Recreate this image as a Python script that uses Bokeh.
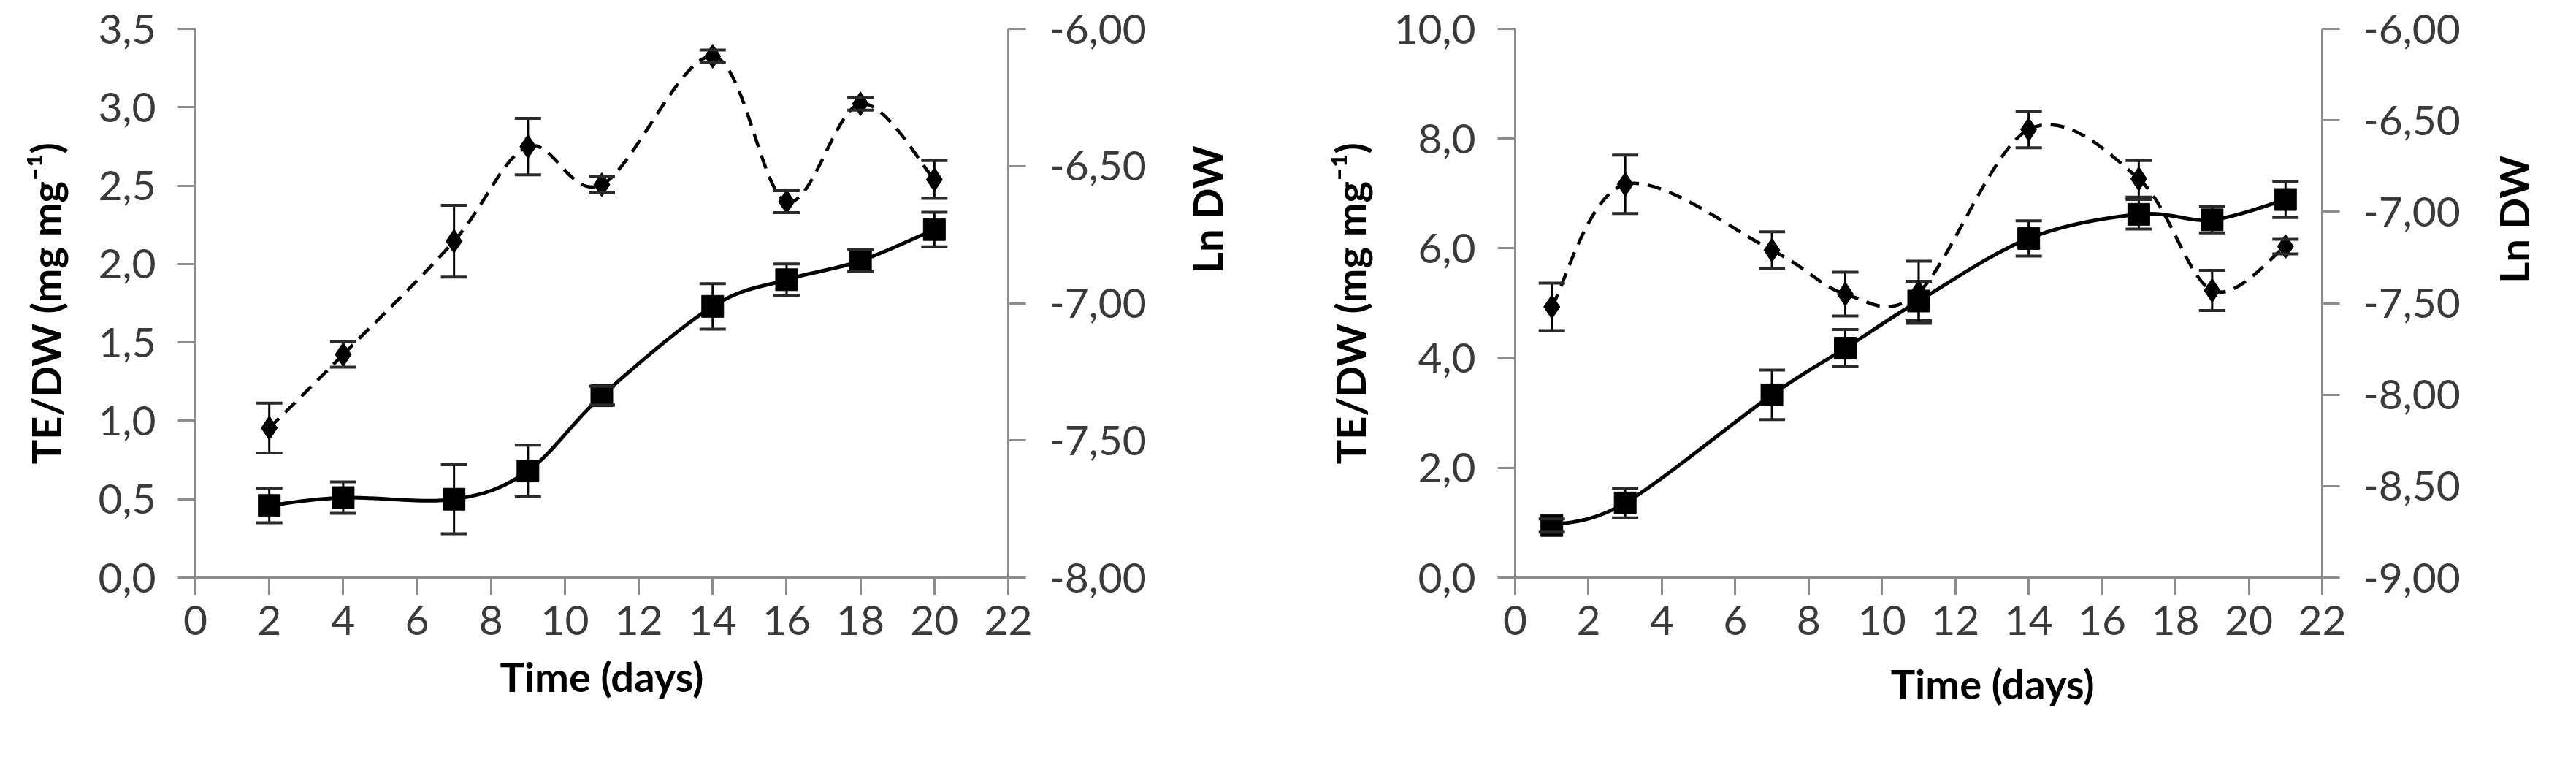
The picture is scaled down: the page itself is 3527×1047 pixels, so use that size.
import math
from bokeh.plotting import figure
from bokeh.layouts import row
from bokeh.models import (Range1d, LinearAxis, FixedTicker, CustomJSTickFormatter,
                          Whisker, TeeHead, ColumnDataSource)
from bokeh.embed import file_html
from bokeh.resources import INLINE

# ---------------- data ----------------
# left panel
days_a = [2, 4, 7, 9, 11, 14, 16, 18, 20]
te_a = [0.46, 0.51, 0.50, 0.68, 1.16, 1.73, 1.90, 2.02, 2.22]
te_a_err = [0.11, 0.10, 0.22, 0.165, 0.06, 0.145, 0.10, 0.07, 0.11]
ln_a = [-7.455, -7.187, -6.774, -6.429, -6.568, -6.100, -6.630, -6.273, -6.549]
ln_a_err = [0.091, 0.046, 0.131, 0.103, 0.029, 0.023, 0.040, 0.023, 0.069]

# right panel
days_b = [1, 3, 7, 9, 11, 14, 17, 19, 21]
te_b = [0.95, 1.36, 3.33, 4.18, 5.04, 6.18, 6.62, 6.52, 6.89]
te_b_err = [0.12, 0.27, 0.45, 0.34, 0.36, 0.32, 0.27, 0.24, 0.33]
ln_b = [-7.52, -6.85, -7.21, -7.45, -7.44, -6.55, -6.82, -7.43, -7.19]
ln_b_err = [0.13, 0.16, 0.10, 0.12, 0.17, 0.10, 0.10, 0.11, 0.04]

# ticks
x_ticks = [0, 2, 4, 6, 8, 10, 12, 14, 16, 18, 20, 22]
x_labels = ["0", "2", "4", "6", "8", "10", "12", "14", "16", "18", "20", "22"]
ya_ticks = [0.0, 0.5, 1.0, 1.5, 2.0, 2.5, 3.0, 3.5]
ya_labels = ["0,0", "0,5", "1,0", "1,5", "2,0", "2,5", "3,0", "3,5"]
lna_ticks = [-8.0, -7.5, -7.0, -6.5, -6.0]
lna_labels = ["-8,00", "-7,50", "-7,00", "-6,50", "-6,00"]
yb_ticks = [0.0, 2.0, 4.0, 6.0, 8.0, 10.0]
yb_labels = ["0,0", "2,0", "4,0", "6,0", "8,0", "10,0"]
lnb_ticks = [-9.0, -8.5, -8.0, -7.5, -7.0, -6.5, -6.0]
lnb_labels = ["-9,00", "-8,50", "-8,00", "-7,50", "-7,00", "-6,50", "-6,00"]

x_title = "Time (days)"
y_title = "TE/DW (mg mg\u207b\u00b9)"
y2_title = "Ln DW"

AXIS_COLOR = "#8c8c8c"
LABEL_COLOR = "#3a3a3a"
FONT = "Lato"
NBSP = "\u00a0"


def formatter(tvals, tlabels):
    return CustomJSTickFormatter(
        args=dict(tvals=tvals, tlabels=tlabels),
        code="""
        for (let i = 0; i < tvals.length; i++) {
            if (Math.abs(tvals[i] - tick) < 1e-9) { return tlabels[i]; }
        }
        return '';
        """)


def style_axis(ax, standoff, title, title_standoff):
    ax.axis_line_color = AXIS_COLOR
    ax.axis_line_width = 3
    ax.major_tick_line_color = AXIS_COLOR
    ax.major_tick_line_width = 3
    ax.major_tick_in = 0
    ax.major_tick_out = 24
    ax.minor_tick_line_color = None
    ax.major_label_text_font = FONT
    ax.major_label_text_font_size = "57px"
    ax.major_label_text_color = LABEL_COLOR
    ax.major_label_standoff = standoff
    ax.axis_label = title
    ax.axis_label_text_font = FONT
    ax.axis_label_text_font_style = "bold"
    ax.axis_label_text_font_size = "56px"
    ax.axis_label_text_color = "black"
    ax.axis_label_standoff = title_standoff


def smooth(xs, ys):
    n = len(xs)
    d = dict(x0=[], y0=[], x1=[], y1=[], cx0=[], cy0=[], cx1=[], cy1=[])
    for i in range(n - 1):
        xm, ym = (xs[i - 1], ys[i - 1]) if i > 0 else (xs[i], ys[i])
        xp, yp = (xs[i + 2], ys[i + 2]) if i + 2 < n else (xs[i + 1], ys[i + 1])
        d["x0"].append(xs[i]); d["y0"].append(ys[i])
        d["x1"].append(xs[i + 1]); d["y1"].append(ys[i + 1])
        d["cx0"].append(xs[i] + (xs[i + 1] - xm) / 6.0)
        d["cy0"].append(ys[i] + (ys[i + 1] - ym) / 6.0)
        d["cx1"].append(xs[i + 1] - (xp - xs[i]) / 6.0)
        d["cy1"].append(ys[i + 1] - (yp - ys[i]) / 6.0)
    return d


def err_src(xs, ys, es):
    return ColumnDataSource(dict(x=xs, upper=[y + e for y, e in zip(ys, es)],
                                 lower=[y - e for y, e in zip(ys, es)]))


def add_whisker(p, xs, ys, es, range_name="default"):
    w = Whisker(source=err_src(xs, ys, es), base="x", upper="upper", lower="lower",
                dimension="height", line_color="black", line_width=3,
                upper_head=TeeHead(size=36, line_color="#2a2a2a", line_width=4),
                lower_head=TeeHead(size=36, line_color="#2a2a2a", line_width=4),
                level="overlay")
    if range_name != "default":
        w.y_range_name = range_name
    p.add_layout(w)


def make_panel(width, fl, fr, fb, days, te, te_err, ln, ln_err,
               yrange, lnrange, yt, yl, lt, ll,
               x_pad, y2_pad, als_x, als_y, als_y2):
    p = figure(width=width, height=1030, output_backend="svg", toolbar_location=None,
               x_range=Range1d(0, 22), y_range=Range1d(*yrange),
               min_border_left=fl, min_border_right=fr, min_border_top=39,
               min_border_bottom=fb)
    p.outline_line_color = None
    p.xgrid.visible = False
    p.ygrid.visible = False
    p.background_fill_color = "white"
    p.border_fill_color = "white"
    p.extra_y_ranges = {"ln": Range1d(*lnrange)}

    p.xaxis.ticker = FixedTicker(ticks=x_ticks)
    p.xaxis.formatter = formatter(x_ticks, x_labels)
    p.yaxis.ticker = FixedTicker(ticks=yt)
    p.yaxis.formatter = formatter(yt, yl)
    for ax in p.xaxis:
        style_axis(ax, 14, NBSP * x_pad + x_title, als_x)
    for ax in p.yaxis:
        style_axis(ax, 30, y_title, als_y)

    rax = LinearAxis(y_range_name="ln", ticker=FixedTicker(ticks=lt),
                     formatter=formatter(lt, ll))
    style_axis(rax, 32, NBSP * y2_pad + y2_title, als_y2)
    if "axis_label_orientation" in rax.properties():
        rax.axis_label_orientation = math.pi / 2
    p.add_layout(rax, "right")

    # smoothed lines
    s1 = smooth(days, te)
    p.bezier(source=ColumnDataSource(s1), x0="x0", y0="y0", x1="x1", y1="y1",
             cx0="cx0", cy0="cy0", cx1="cx1", cy1="cy1", line_color="black", line_width=5)
    s2 = smooth(days, ln)
    p.bezier(source=ColumnDataSource(s2), x0="x0", y0="y0", x1="x1", y1="y1",
             cx0="cx0", cy0="cy0", cx1="cx1", cy1="cy1", line_color="black", line_width=4.5,
             line_dash="19 12", y_range_name="ln")

    p.scatter(days, te, marker="square", size=30, color="black")
    p.scatter(days, ln, marker="diamond", size=33, color="black", y_range_name="ln")

    add_whisker(p, days, te, te_err)
    add_whisker(p, days, ln, ln_err, "ln")
    return p


p1 = make_panel(1782, 267, 402, 232, days_a, te_a, te_a_err, ln_a, ln_a_err,
                (0, 3.5), (-8, -6), ya_ticks, ya_labels, lna_ticks, lna_labels,
                0, 3, 20, 35, 80)
p2 = make_panel(1729, 292, 324, 240, days_b, te_b, te_b_err, ln_b, ln_b_err,
                (0, 10), (-9, -6), yb_ticks, yb_labels, lnb_ticks, lnb_labels,
                15, 2, 30, 23, 70)

layout = row(p1, p2)
open("out.html", "w").write(file_html(layout, INLINE))
